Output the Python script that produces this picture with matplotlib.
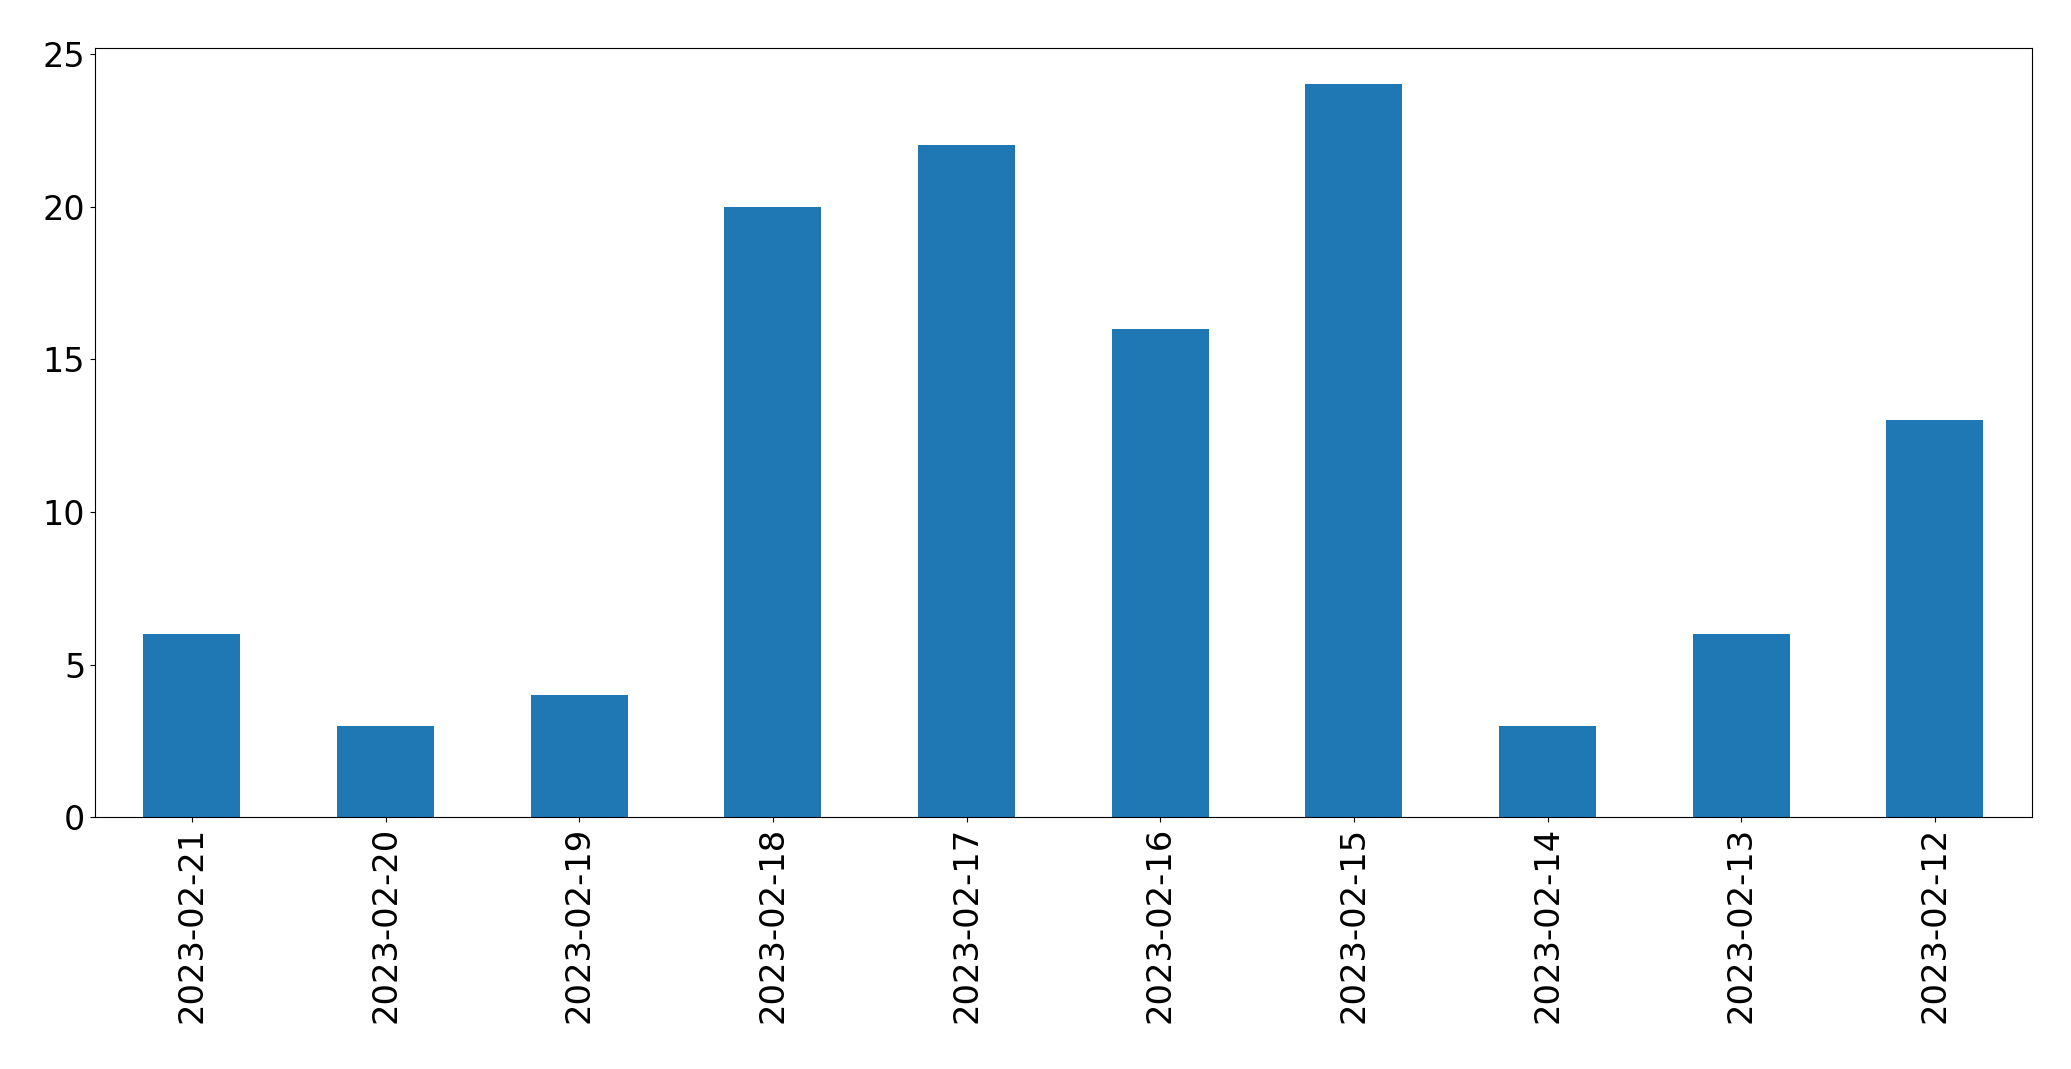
import matplotlib
matplotlib.use("Agg")
import matplotlib.pyplot as plt
import numpy as np

dates = ["2023-02-21", "2023-02-20", "2023-02-19", "2023-02-18", "2023-02-17",
         "2023-02-16", "2023-02-15", "2023-02-14", "2023-02-13", "2023-02-12"]
counts = [6, 3, 4, 20, 22, 16, 24, 3, 6, 13]

fig = plt.figure(figsize=(20.71, 10.69), dpi=100)
ax = fig.add_axes([0.04587, 0.23545, 0.93515, 0.71993])

x = np.arange(len(dates))
ax.bar(x, counts, width=0.5, color="#1f77b4")
ax.set_xlim(-0.5, len(dates) - 0.5)
ax.set_ylim(0, max(counts) * 1.05)
ax.set_xticks(x)
ax.set_xticklabels(dates, rotation=90, fontsize=24.3)
ax.tick_params(axis="y", labelsize=24)

fig.savefig("out.png", dpi=100)
